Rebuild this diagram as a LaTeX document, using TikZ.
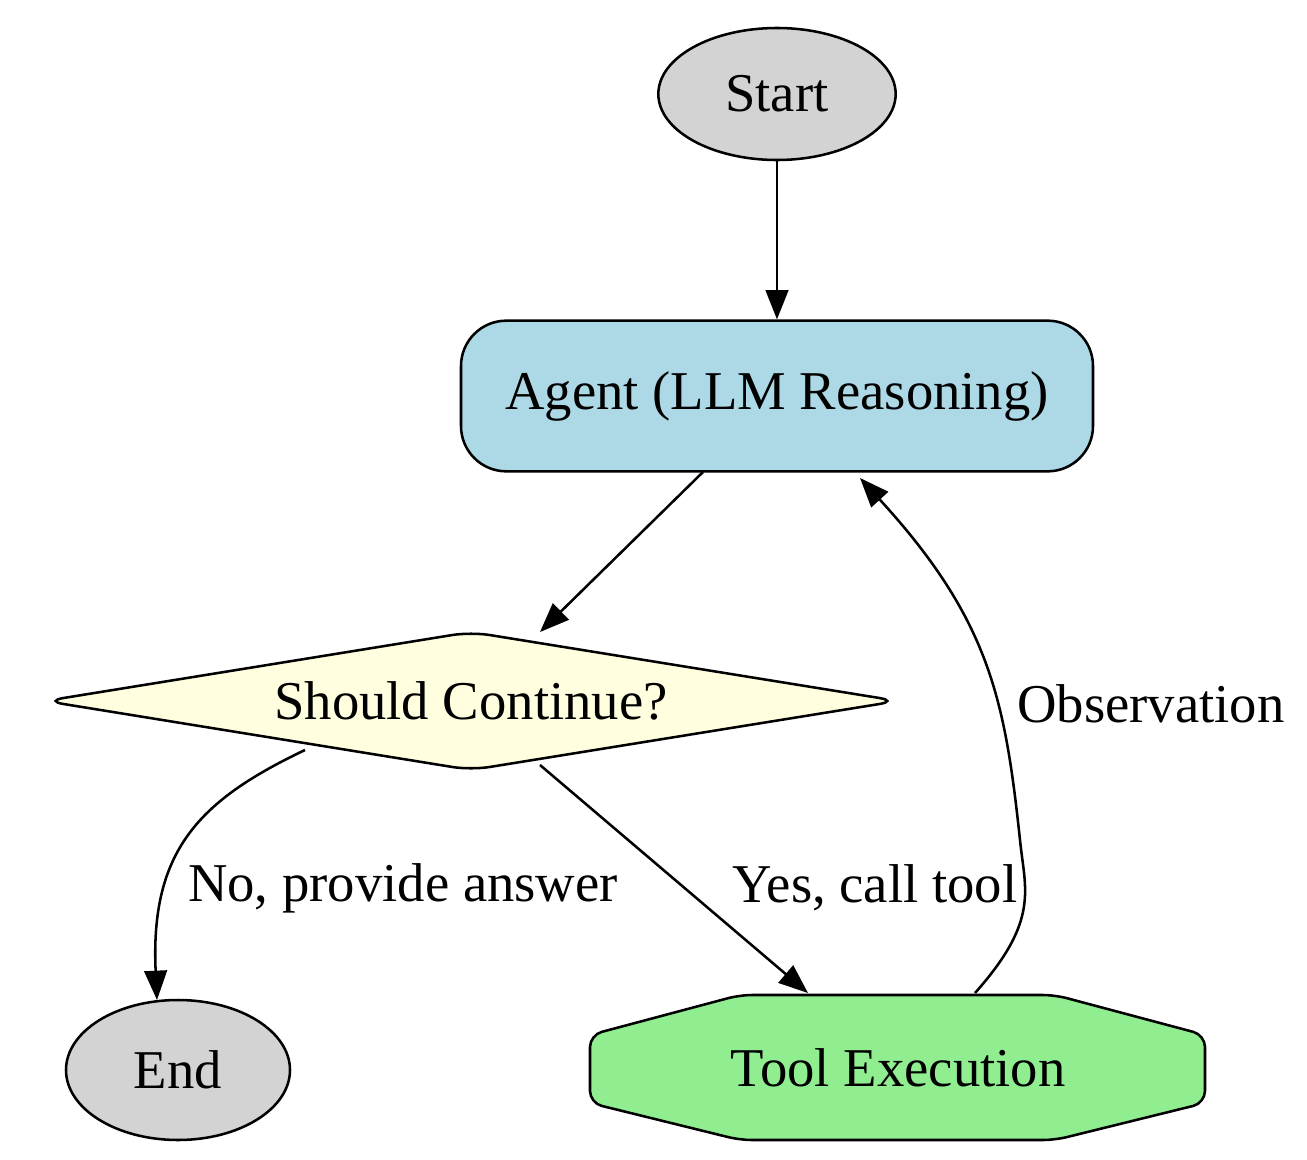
\documentclass[tikz,border=0pt]{standalone}
\usepackage{fontspec}
\setmainfont{Liberation Serif}
\usetikzlibrary{shapes.geometric,arrows.meta}
\definecolor{lgray}{HTML}{D3D3D3}
\definecolor{lblue}{HTML}{ADD8E6}
\definecolor{lyellow}{HTML}{FFFFE0}
\definecolor{lgreen}{HTML}{90EE90}
\begin{document}
\begin{tikzpicture}[x=0.75pt,y=-0.75pt,
  every node/.style={font=\fontsize{41}{48}\selectfont},
  shp/.style={draw=black,line width=1.9pt},
  edge/.style={line width=1.9pt,-{Triangle[length=22pt,width=17pt]}},
  lbl/.style={inner sep=0pt}]
\useasboundingbox (0,0) rectangle (1307,1160);
\node[shp,ellipse,fill=lgray,minimum width=178pt,minimum height=99pt,inner sep=0pt] (start) at (777,94) {Start};
\node[shp,rectangle,rounded corners=34pt,fill=lblue,minimum width=474pt,minimum height=113pt] (agent) at (777,396) {Agent (LLM Reasoning)};
\filldraw[shp,fill=lyellow,rounded corners=14pt] (471,632) -- (898,701) -- (471,770) -- (45,701) -- cycle;
\node (dec) at (471,701) {Should Continue?};
\node[shp,ellipse,fill=lgray,minimum width=168pt,minimum height=105pt,inner sep=0pt] (end) at (178,1070) {End};
\filldraw[shp,fill=lgreen,rounded corners=9pt] (740,995) -- (1055,995) -- (1205,1035) -- (1205,1103) -- (1055,1140) -- (740,1140) -- (590,1103) -- (590,1035) -- cycle;
\node (tool) at (898,1068) {Tool Execution};
\coordinate (d1) at (540,632);
\coordinate (d2) at (305,750);
\coordinate (d3) at (540,765);
\coordinate (t1) at (808,993);
\coordinate (t2) at (975,993);
\coordinate (e1) at (157,1000);
\coordinate (a1) at (703,472);
\coordinate (a2) at (860,478);
\draw[edge] (start) -- (agent);
\draw[edge] (a1) -- (d1);
\draw[edge] (d2) .. controls (200,800) and (150,850) .. (e1);
\draw[edge] (d3) -- (t1);
\draw[edge] (t2) .. controls (1040,920) and (1025,890) .. (1020,840) .. controls (1005,700) and (990,620) .. (a2);
\node[lbl] (l1) at (403,888) {No, provide answer};
\node[lbl] (l2) at (875,888) {Yes, call tool};
\node[lbl] (l3) at (1151,704) {Observation};
\end{tikzpicture}
\end{document}
